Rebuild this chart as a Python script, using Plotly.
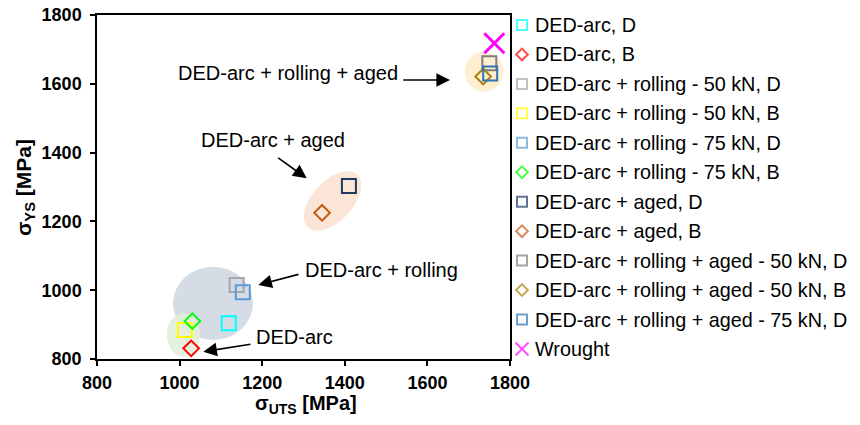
import numpy as np
import plotly.graph_objects as go

# Tensile properties of DED-arc material in different conditions
series = [
    "DED-arc, D",
    "DED-arc, B",
    "DED-arc + rolling - 50 kN, D",
    "DED-arc + rolling - 50 kN, B",
    "DED-arc + rolling - 75 kN, D",
    "DED-arc + rolling - 75 kN, B",
    "DED-arc + aged, D",
    "DED-arc + aged, B",
    "DED-arc + rolling + aged - 50 kN, D",
    "DED-arc + rolling + aged - 50 kN, B",
    "DED-arc + rolling + aged - 75 kN, D",
    "Wrought",
]
uts = [1119, 1028, 1138, 1013, 1153, 1031, 1410, 1345, 1750, 1735, 1752, 1762]
ys = [904, 831, 1015, 884, 994, 910, 1303, 1225, 1660, 1621, 1630, 1718]

colors = ["#00FFFF", "#FF0000", "#A6A6A6", "#FFFF00", "#5B9BD5", "#00FF00",
          "#203864", "#C55A11", "#7F7F7F", "#A8830F", "#2E75B6", "#FF00FF"]
symbols = ["square-open", "diamond-open", "square-open", "square-open",
           "square-open", "diamond-open", "square-open", "diamond-open",
           "square-open", "diamond-open", "square-open", "x-thin-open"]
sizes = [14, 12, 14, 14, 14, 12, 14, 12, 14, 12, 14, 20]
key_sizes = [10, 9, 10, 10, 10, 9, 10, 9, 10, 9, 10, 13]

x_ticks = [800, 1000, 1200, 1400, 1600, 1800]
y_ticks = [800, 1000, 1200, 1400, 1600, 1800]

W, H = 860, 425
# plot area in pixels
PX0, PX1, PY0, PY1 = 97, 510, 15, 359
XR = (800, 1800)
YR = (800, 1800)


def px_to_x(px):
    return XR[0] + (px - PX0) / (PX1 - PX0) * (XR[1] - XR[0])


def py_to_y(py):
    return YR[0] + (PY1 - py) / (PY1 - PY0) * (YR[1] - YR[0])


FONT = "Liberation Sans, Arial, sans-serif"

fig = go.Figure()

for name, x, y, c, s, sz in zip(series, uts, ys, colors, symbols, sizes):
    fig.add_trace(go.Scatter(
        x=[x], y=[y], mode="markers", name=name, showlegend=False,
        marker=dict(symbol=s, size=sz, color=c,
                    line=dict(color=c, width=2 if "x-thin" not in s else 3)),
    ))

# legend keys on a pixel-unit overlay axis
key_x = 522
row0, row_step = 25, 29.45
rows = [row0 + i * row_step for i in range(len(series))]
fig.add_trace(go.Scatter(
    x=[key_x] * len(series), y=rows, mode="markers", showlegend=False,
    xaxis="x2", yaxis="y2", hoverinfo="skip",
    marker=dict(symbol=symbols, size=key_sizes, color=colors,
                line=dict(color=colors, width=2)),
))

annotations = []
for name, ry in zip(series, rows):
    annotations.append(dict(
        x=533 / W, y=1 - ry / H, xref="paper", yref="paper",
        xanchor="left", yanchor="middle", text=name, showarrow=False,
        font=dict(family=FONT, size=19.8, color="#000000"),
    ))

# group highlight regions
shapes = []
shapes.append(dict(type="circle", xref="x", yref="y", layer="below",
                   x0=px_to_x(173), x1=px_to_x(253), y0=py_to_y(340), y1=py_to_y(266.7),
                   fillcolor="#D6DCE5", line=dict(width=0)))
shapes.append(dict(type="circle", xref="x", yref="y", layer="below",
                   x0=px_to_x(166.7), x1=px_to_x(200), y0=py_to_y(356.7), y1=py_to_y(313.3),
                   fillcolor="rgba(226,239,218,0.9)", line=dict(width=0)))
shapes.append(dict(type="circle", xref="x", yref="y", layer="below",
                   x0=px_to_x(465), x1=px_to_x(503.5), y0=py_to_y(91.7), y1=py_to_y(51.7),
                   fillcolor="#FDEFCF", line=dict(width=0)))
# tilted ellipse around the aged points
cx, cy, a, b, th = 332.5, 201.0, 36.0, 20.0, np.deg2rad(47)
t = np.linspace(0, 2 * np.pi, 73)
ex = cx + a * np.cos(th) * np.cos(t) - b * np.sin(th) * np.sin(t)
ey = cy - (a * np.sin(th) * np.cos(t) + b * np.cos(th) * np.sin(t))
path = "M " + " L ".join(f"{px_to_x(u):.2f},{py_to_y(v):.2f}" for u, v in zip(ex, ey)) + " Z"
shapes.append(dict(type="path", xref="x", yref="y", layer="below", path=path,
                   fillcolor="#FBE5D6", line=dict(width=0)))

# group labels with arrows
labels = [
    ("DED-arc + rolling + aged", (287.5, 73), (401.7, 80), (450, 80)),
    ("DED-arc + aged", (272.5, 140), (276.7, 156.7), (306.7, 178.3)),
    ("DED-arc + rolling", (381.7, 270), (300, 274), (258.3, 285)),
    ("DED-arc", (294, 337), (252, 344), (203.3, 351.7)),
]
for text, (tx, ty), (ax, ay), (hx, hy) in labels:
    annotations.append(dict(
        x=px_to_x(tx), y=py_to_y(ty), xref="x", yref="y", text=text,
        showarrow=False, xanchor="center", yanchor="middle",
        font=dict(family=FONT, size=20, color="#000000"),
    ))
    annotations.append(dict(
        x=px_to_x(hx), y=py_to_y(hy), xref="x", yref="y",
        ax=px_to_x(ax), ay=py_to_y(ay), axref="x", ayref="y", text="",
        showarrow=True, arrowhead=2, arrowsize=1.7, arrowwidth=1.6,
        arrowcolor="#000000", standoff=0,
    ))

# axis titles
annotations.append(dict(
    x=306 / W, y=1 - 404 / H, xref="paper", yref="paper", showarrow=False,
    text="<b>σ<sub>UTS</sub> [MPa]</b>", xanchor="center", yanchor="middle",
    font=dict(family=FONT, size=20, color="#000000"),
))
annotations.append(dict(
    x=25 / W, y=1 - 188 / H, xref="paper", yref="paper", showarrow=False,
    text="<b>σ<sub>YS</sub> [MPa]</b>", xanchor="center", yanchor="middle",
    textangle=-90, font=dict(family=FONT, size=21, color="#000000"),
))

axis_common = dict(
    showgrid=False, zeroline=False, showline=True, linecolor="#000000",
    linewidth=1.5, mirror=True, ticks="outside", ticklen=5, tickwidth=1.5,
    tickcolor="#000000", automargin=False,
    tickfont=dict(family=FONT, size=18, color="#000000", weight="bold"),
)

fig.update_layout(
    width=W, height=H, autosize=False,
    margin=dict(l=0, r=0, t=0, b=0, pad=0, autoexpand=False),
    paper_bgcolor="#FFFFFF", plot_bgcolor="rgba(0,0,0,0)",
    xaxis=dict(domain=[PX0 / W, PX1 / W], range=list(XR), tickvals=x_ticks,
               anchor="y", ticklabelstandoff=2, **axis_common),
    yaxis=dict(domain=[1 - PY1 / H, 1 - PY0 / H], range=list(YR), tickvals=y_ticks,
               anchor="x", ticklabelstandoff=5, **axis_common),
    xaxis2=dict(domain=[0, 1], range=[0, W], visible=False, anchor="y2", fixedrange=True),
    yaxis2=dict(domain=[0, 1], range=[H, 0], visible=False, anchor="x2", fixedrange=True),
    shapes=shapes,
    annotations=annotations,
    showlegend=False,
)

fig.write_html("out.html")
